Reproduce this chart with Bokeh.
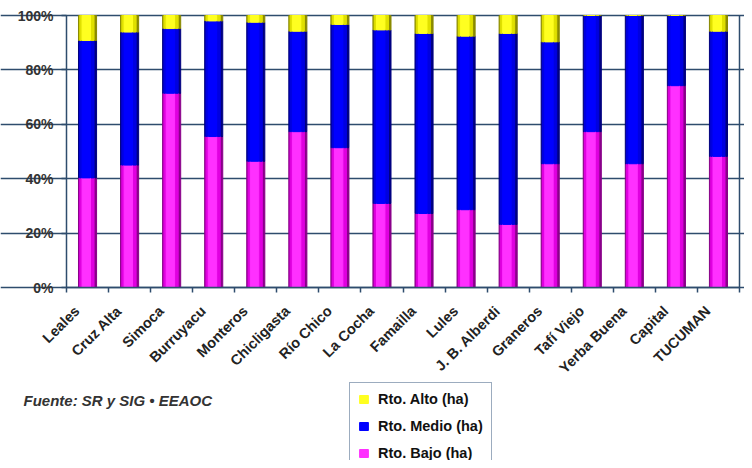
import numpy as np
from bokeh.plotting import figure
from bokeh.models import (ColumnDataSource, FixedTicker, Legend, LegendItem, Label,
                          Range1d)
from bokeh.transform import dodge
from bokeh.embed import file_html
from bokeh.resources import INLINE
from math import pi

departamentos = ["Leales", "Cruz Alta", "Simoca", "Burruyacu", "Monteros", "Chicligasta",
                 "Río Chico", "La Cocha", "Famailla", "Lules", "J. B. Alberdi", "Graneros",
                 "Tafí Viejo", "Yerba Buena", "Capital", "TUCUMAN"]
rto_bajo = [40.3, 45.0, 71.4, 55.5, 46.4, 57.3, 51.4, 30.9, 27.2, 28.6, 23.2, 45.5, 57.3, 45.5, 74.2, 48.2]
rto_medio = [50.5, 48.9, 23.8, 42.5, 51.1, 36.9, 45.3, 63.8, 66.2, 63.8, 70.2, 44.8, 42.7, 54.5, 25.8, 46.0]
rto_alto = [9.2, 6.1, 4.8, 2.0, 2.5, 5.8, 3.3, 5.3, 6.6, 7.6, 6.6, 9.7, 0.0, 0.0, 0.0, 5.8]
y_ticks = [0, 20, 40, 60, 80, 100]
series_names = ["Rto. Bajo (ha)", "Rto. Medio (ha)", "Rto. Alto (ha)"]

n = len(departamentos)
xpos = np.arange(n) + 0.5
src = ColumnDataSource(dict(x=xpos, bajo=rto_bajo, medio=rto_medio, alto=rto_alto))

W, H = 744, 460
# plot area (pixels in figure): left 66, right 739, top 15, bottom 287
px_per_x = (739 - 66) / n
px_per_y = (287 - 15) / 100.0
x_range = Range1d(-66 / px_per_x, n + (W - 739) / px_per_x)
y_range = Range1d(-(H - 287) / px_per_y, 100 + 15 / px_per_y)

p = figure(width=W, height=H, output_backend="svg", toolbar_location=None,
           x_range=x_range, y_range=y_range,
           min_border_left=0, min_border_right=0, min_border_top=0, min_border_bottom=0)

grid_col = "#2E4C6D"
dark = ["#8A008A", "#000080", "#8A8A00"]
mid = ["#E000E0", "#0000E0", "#E0E000"]
bright = ["#FF30FF", "#0000FF", "#FFFF20"]
stack = ["bajo", "medio", "alto"]

p.vbar_stack(stack, x="x", width=0.43, color=dark, source=src)
p.vbar_stack(stack, x=dodge("x", -0.015, range=p.x_range), width=0.34, color=mid, source=src)
rs = p.vbar_stack(stack, x=dodge("x", -0.03, range=p.x_range), width=0.2, color=bright, source=src)

# y axis
p.yaxis.fixed_location = 0
p.yaxis.bounds = (y_ticks[0], y_ticks[-1])
p.yaxis.ticker = FixedTicker(ticks=y_ticks)
p.yaxis.major_label_overrides = {t: f"{t}%" for t in y_ticks}
p.yaxis.major_label_text_font = "Liberation Sans"
p.yaxis.major_label_text_font_style = "bold"
p.yaxis.major_label_text_font_size = "14px"
p.yaxis.major_label_text_color = "#333333"
p.yaxis.axis_line_color = grid_col
p.yaxis.axis_line_width = 1.5
p.yaxis.major_tick_line_color = grid_col
p.yaxis.major_tick_line_width = 1.5
p.yaxis.major_tick_out = 5
p.yaxis.major_tick_in = 0
p.yaxis.minor_tick_line_color = None
p.yaxis.major_label_standoff = 8

# x axis: labels anchored slightly left of each bar centre, ticks at category boundaries
label_shift = -0.25
label_pos = [float(x + label_shift) for x in xpos]
p.xaxis.fixed_location = 0
p.xaxis.bounds = (0, n)
p.xaxis.ticker = FixedTicker(ticks=label_pos, minor_ticks=list(range(n + 1)))
p.xaxis.major_label_overrides = {x: d for x, d in zip(label_pos, departamentos)}
p.xaxis.major_label_orientation = pi / 4
p.xaxis.major_label_text_font = "Liberation Sans"
p.xaxis.major_label_text_font_style = "bold"
p.xaxis.major_label_text_font_size = "14.5px"
p.xaxis.major_label_text_color = "#222222"
p.xaxis.major_tick_line_color = None
p.xaxis.major_tick_out = 5
p.xaxis.minor_tick_line_color = grid_col
p.xaxis.minor_tick_line_width = 1.5
p.xaxis.minor_tick_out = 5
p.xaxis.minor_tick_in = 0
p.xaxis.axis_line_color = grid_col
p.xaxis.axis_line_width = 1.5
p.xaxis.major_label_standoff = 16

p.xgrid.grid_line_color = None
p.ygrid.ticker = FixedTicker(ticks=y_ticks)
p.ygrid.bounds = (0, n)
p.ygrid.grid_line_color = grid_col
p.ygrid.grid_line_width = 1.5
p.outline_line_color = None
p.background_fill_color = "white"
p.border_fill_color = "white"

# right border of the plot area
p.segment(x0=[n], y0=[y_ticks[0]], x1=[n], y1=[y_ticks[-1]], line_color=grid_col, line_width=1.5)

legend = Legend(items=[LegendItem(label=series_names[2], renderers=[rs[2]]),
                       LegendItem(label=series_names[1], renderers=[rs[1]]),
                       LegendItem(label=series_names[0], renderers=[rs[0]])],
                location=(349, -10), padding=8, spacing=11, label_height=16,
                glyph_height=10, glyph_width=11, label_standoff=9, margin=0,
                border_line_color="#3A5A80", border_line_width=1.2,
                label_text_font="Liberation Sans", label_text_font_style="bold",
                label_text_font_size="14.5px", label_text_color="#111111",
                background_fill_alpha=1.0)
p.add_layout(legend, "center")

p.add_layout(Label(x=23, y=H - 400, x_units="screen", y_units="screen",
                   text="Fuente: SR y SIG • EEAOC", text_font="Liberation Sans",
                   text_font_style="bold italic", text_font_size="15px",
                   text_color="#333333", text_baseline="alphabetic"))

open("out.html", "w").write(file_html(p, INLINE))
